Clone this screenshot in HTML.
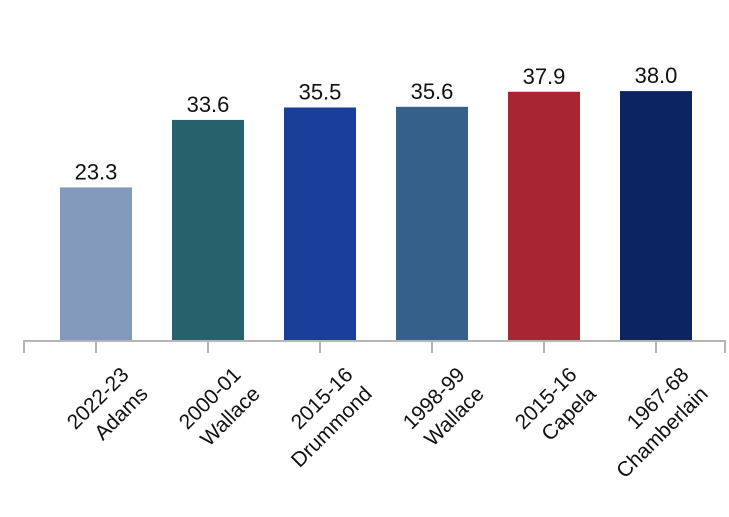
<!DOCTYPE html>
<html><head><meta charset="utf-8"><style>
body{margin:0;background:#fff}
svg text{font-family:"Liberation Sans",sans-serif;fill:#111}
</style></head><body>
<svg id="chart" width="729" height="512" xmlns="http://www.w3.org/2000/svg">
<g id="bars"></g>
<g id="axis"></g>
</svg>
<script>
const years = ["2022-23","2000-01","2015-16","1998-99","2015-16","1967-68"];
const names = ["Adams","Wallace","Drummond","Wallace","Capela","Chamberlain"];
const values = [23.3,33.6,35.5,35.6,37.9,38.0];
const colors = ["#8399bb","#27626c","#1a3f9b","#35608a","#a82634","#0c2462"];
const NS="http://www.w3.org/2000/svg";
const base=340, scale=6.55, step=112, c0=96, barW=72, axL=24, axR=725;
const xs=i=>c0+step*i;
const ys=v=>base-v*scale;
const bars=document.getElementById('bars'), axis=document.getElementById('axis');
function mk(t,a,p){const e=document.createElementNS(NS,t);for(const k in a)e.setAttribute(k,a[k]);p.appendChild(e);return e;}
values.forEach((v,i)=>{
  const r=mk('rect',{x:xs(i)-barW/2,y:ys(v),width:barW,height:base-ys(v),fill:colors[i]},bars);
  
  
  const t=mk('text',{x:xs(i),y:ys(v)-8,'text-anchor':'middle','font-size':22},bars);
  t.textContent=v.toFixed(1);
  
  
  const tk=mk('line',{x1:xs(i),x2:xs(i),y1:341,y2:353,stroke:'#b5b5b5','stroke-width':2},axis);
  
  
  const g=mk('g',{transform:`translate(${xs(i)+34},${376}) rotate(-45)`},axis);
  
  
  const l1=mk('text',{x:0,y:0,'text-anchor':'end','font-size':21},g);l1.textContent=years[i];
  const l2=mk('text',{x:0,y:27,'text-anchor':'end','font-size':21},g);l2.textContent=names[i];
});
const al=mk('path',{d:`M${axL},353V341H${axR}V353`,fill:'none',stroke:'#b5b5b5','stroke-width':2},axis);


</script>
</body></html>
